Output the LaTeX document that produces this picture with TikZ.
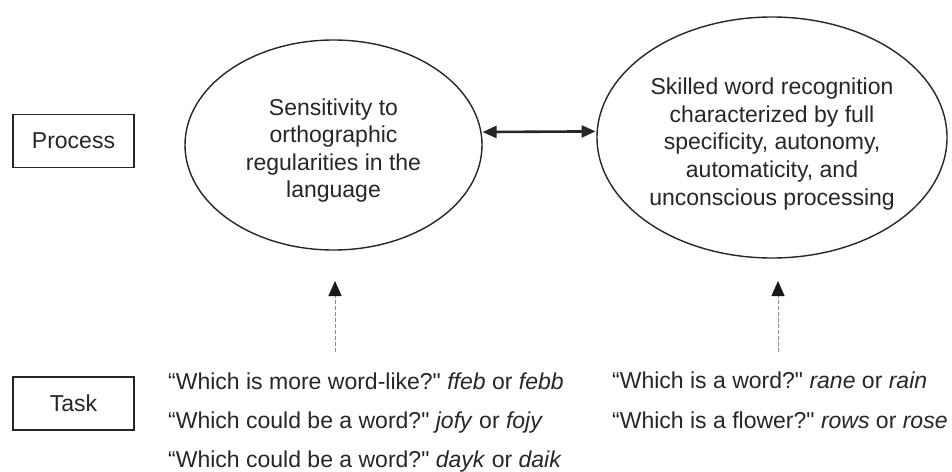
\documentclass[tikz,border=0pt]{standalone}
\usepackage{fontspec}
\setmainfont{Liberation Sans}[Ligatures=TeXOff]
\usetikzlibrary{shapes.geometric,arrows.meta}

\tikzset{
  txt/.style={text=black!85, font=\fontsize{23}{27.6}\selectfont, inner sep=0pt},
  labelbox/.style={txt, draw=black!85, line width=1.6pt, minimum width=121pt, minimum height=53pt},
  idea/.style={draw=black!85, ellipse, line width=1.4pt, inner sep=0pt},
  ideatext/.style={txt, align=center},
  link/.style={line width=2.6pt, draw=black!85, {Triangle[length=14pt,width=12pt]}-{Triangle[length=14pt,width=12pt]}, shorten <=1pt, shorten >=1pt},
  probe/.style={draw=black!45, line width=1pt, dash pattern=on 4pt off 2pt, -{Triangle[length=15pt,width=13pt,black!90]}},
  tasktext/.style={txt, anchor=base west}
}

\begin{document}
\begin{tikzpicture}[x=1pt, y=-1pt]
  \useasboundingbox (0,0) rectangle (952,471);

  % row labels
  \node[labelbox] (process) at (73.5,141) {Process};
  \node[labelbox] (task) at (73.5,403.5) {Task};

  % the two processes
  \node[idea, minimum width=297pt, minimum height=210pt] (sens) at (333.5,145) {};
  \node[ideatext] (sensText) at (333.5,150.5)
    {Sensitivity to\\orthographic\\regularities in the\\language};
  \node[idea, minimum width=350pt, minimum height=241pt] (skill) at (772,137.5) {};
  \node[ideatext] (skillText) at (772,144)
    {Skilled word recognition\\characterized by full\\specificity, autonomy,\\automaticity, and\\unconscious processing};

  \draw[link] (sens.5) -- (skill.178.2);

  % task items
  \node[tasktext] (t1) at (168,389) {“Which is more word-like?" \textit{ffeb} or \textit{febb}};
  \node[tasktext] (t2) at (168,428) {“Which could be a word?" \textit{jofy} or \textit{fojy}};
  \node[tasktext] (t3) at (168,467) {“Which could be a word?" \textit{dayk} or \textit{daik}};
  \node[tasktext] (t4) at (612,388) {“Which is a word?" \textit{rane} or \textit{rain}};
  \node[tasktext] (t5) at (612,428) {“Which is a flower?" \textit{rows} or \textit{rose}};

  % tasks probe the processes
  \coordinate (pL0) at (335,352);
  \coordinate (pL1) at (335,281);
  \coordinate (pR0) at (778,352);
  \coordinate (pR1) at (778,281);
  \draw[probe] (pL0) -- (pL1);
  \draw[probe] (pR0) -- (pR1);
\end{tikzpicture}
\end{document}
